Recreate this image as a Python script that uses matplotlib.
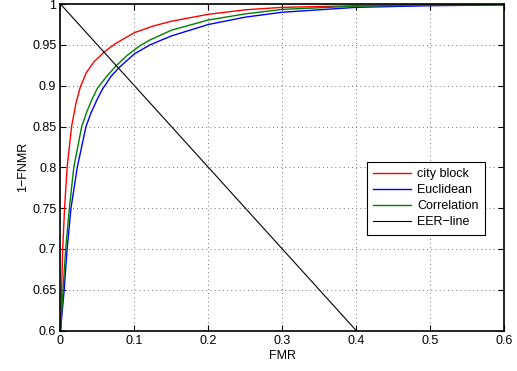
import matplotlib
matplotlib.use("Agg")
import matplotlib.pyplot as plt

# ROC-style curves (FMR vs 1-FNMR)
city_fmr = [0, 0.0015, 0.003, 0.0055, 0.009, 0.015, 0.021, 0.027, 0.035, 0.045,
            0.06, 0.075, 0.1, 0.125, 0.15, 0.2, 0.25, 0.3, 0.4, 0.5, 0.6]
city_tar = [0.6, 0.65, 0.70, 0.75, 0.80, 0.85, 0.879, 0.899, 0.916, 0.929,
            0.942, 0.952, 0.965, 0.973, 0.979, 0.9875, 0.993, 0.996, 0.998, 0.999, 0.9995]

eucl_fmr = [0, 0.005, 0.009, 0.0142, 0.0227, 0.0345, 0.041, 0.050, 0.057, 0.068,
            0.079, 0.1, 0.121, 0.15, 0.2, 0.25, 0.3, 0.4, 0.5, 0.6]
eucl_tar = [0.6, 0.65, 0.70, 0.75, 0.80, 0.85, 0.866, 0.884, 0.896, 0.911,
            0.922, 0.939, 0.950, 0.961, 0.975, 0.984, 0.990, 0.996, 0.998, 0.999]

corr_fmr = [0, 0.0035, 0.007, 0.012, 0.018, 0.0287, 0.036, 0.043, 0.050, 0.063,
            0.076, 0.09, 0.1075, 0.121, 0.15, 0.2, 0.25, 0.3, 0.4, 0.5, 0.6]
corr_tar = [0.6, 0.65, 0.70, 0.75, 0.80, 0.85, 0.869, 0.884, 0.897, 0.912,
            0.925, 0.937, 0.949, 0.956, 0.968, 0.9805, 0.988, 0.9935, 0.9975, 0.9988, 0.9993]

eer_fmr = [0, 0.4]
eer_tar = [1, 0.6]

xticks = [0, 0.1, 0.2, 0.3, 0.4, 0.5, 0.6]
xtick_labels = ["0", "0.1", "0.2", "0.3", "0.4", "0.5", "0.6"]
yticks = [0.6, 0.65, 0.7, 0.75, 0.8, 0.85, 0.9, 0.95, 1]
ytick_labels = ["0.6", "0.65", "0.7", "0.75", "0.8", "0.85", "0.9", "0.95", "1"]

plt.rcParams["font.family"] = ["Liberation Sans", "DejaVu Sans"]
plt.rcParams["font.size"] = 9

fig = plt.figure(figsize=(5.17, 3.71), dpi=100)
ax = fig.add_axes([0.117, 0.109, 0.858, 0.880])

ax.plot(city_fmr, city_tar, color="#ff0000", lw=1.0, label="city block")
ax.plot(eucl_fmr, eucl_tar, color="#0000ff", lw=1.0, label="Euclidean")
ax.plot(corr_fmr, corr_tar, color="#008000", lw=1.0, label="Correlation")
ax.plot(eer_fmr, eer_tar, color="black", lw=0.8, label="EER\u2212line")

ax.set_xlim(0, 0.6)
ax.set_ylim(0.6, 1)
ax.set_xticks(xticks)
ax.set_xticklabels(xtick_labels)
ax.set_yticks(yticks)
ax.set_yticklabels(ytick_labels)
ax.tick_params(direction="in", length=4, width=0.8, top=True, right=True, pad=3)
ax.grid(True, linestyle=(0, (1, 4)), color="#444444", linewidth=0.6)
for s in ax.spines.values():
    s.set_linewidth(1.2)

ax.set_xlabel("FMR", labelpad=2)
ax.set_ylabel("1\u2212FNMR", labelpad=2)

leg = ax.legend(loc="upper left", bbox_to_anchor=(0.691, 0.516), borderaxespad=0,
                fancybox=False, framealpha=1, edgecolor="black", handlelength=3.0,
                labelspacing=0.32, borderpad=0.5, handletextpad=0.5)
leg.get_frame().set_linewidth(0.8)

fig.savefig("out.png", dpi=100)
